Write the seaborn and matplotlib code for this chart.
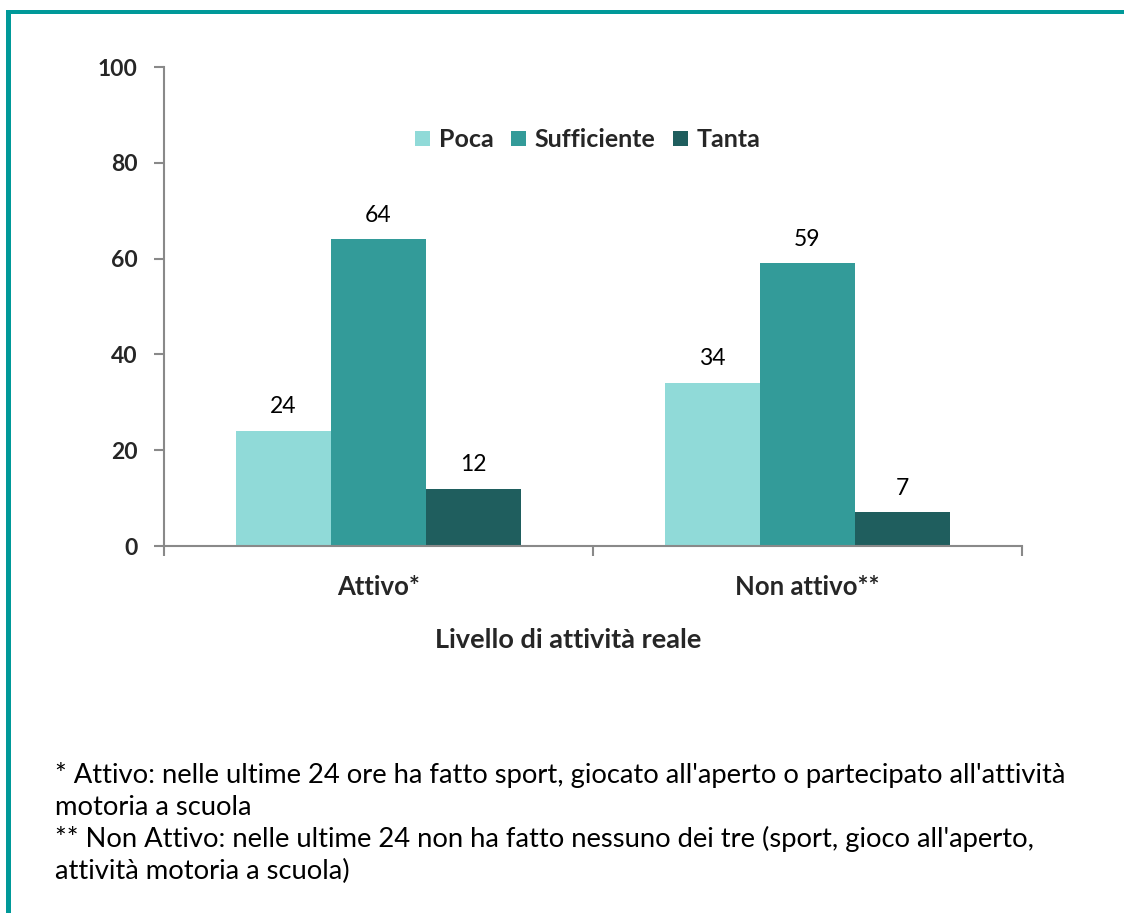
import matplotlib
matplotlib.use("Agg")
import matplotlib.pyplot as plt
import seaborn as sns
import pandas as pd
from matplotlib.patches import Rectangle
from matplotlib.ticker import FixedLocator

categories = ["Attivo*", "Non attivo**"]
series = ["Poca", "Sufficiente", "Tanta"]
poca = [24, 34]
sufficiente = [64, 59]
tanta = [12, 7]
colors = ["#90DAD8", "#339B99", "#1F5E5E"]
y_ticks = [0, 20, 40, 60, 80, 100]
x_title = "Livello di attività reale"
footnotes = [
    "* Attivo: nelle ultime 24 ore ha fatto sport, giocato all'aperto o partecipato all'attività",
    "motoria a scuola",
    "** Non Attivo: nelle ultime 24 non ha fatto nessuno dei tre (sport, gioco all'aperto,",
    "attività motoria a scuola)",
]

rows = []
for name, vals in zip(series, [poca, sufficiente, tanta]):
    for c, v in zip(categories, vals):
        rows.append({"cat": c, "serie": name, "val": v})
df = pd.DataFrame(rows)

sns.set_theme(style="white")
plt.rcParams["font.family"] = ["Lato", "DejaVu Sans"]

fig = plt.figure(figsize=(11.24, 9.13), dpi=100)
ax = fig.add_axes([164 / 1124, 1 - 546 / 913, 858 / 1124, 479 / 913])

sns.barplot(data=df, x="cat", y="val", hue="serie", order=categories,
            hue_order=series, palette=colors, width=0.664, gap=0,
            linewidth=0, saturation=1, ax=ax, legend=True)

for cont in ax.containers:
    ax.bar_label(cont, labels=[f"{v:.0f}" for v in cont.datavalues],
                 padding=10, fontsize=16.5, color="black")

ax.set_xlim(-0.5, 1.5)
ax.set_ylim(0, 100)
ax.set_yticks(y_ticks)
ax.set_yticklabels([str(t) for t in y_ticks], fontsize=16.5, fontweight="bold")
ax.set_xticks([0, 1])
ax.set_xticklabels(categories, fontsize=18.5, fontweight="bold")
ax.xaxis.set_minor_locator(FixedLocator([-0.5, 0.5, 1.5]))
ax.tick_params(axis="x", which="major", length=0, pad=21)
ax.tick_params(axis="x", which="minor", length=7, width=1.5, color="#898989", direction="out", bottom=True)
ax.tick_params(axis="y", length=7, width=1.5, color="#898989", direction="out", left=True, pad=12)
ax.set_xlabel(x_title, fontsize=19.5, fontweight="bold", labelpad=21, x=0.471)
ax.set_ylabel("")
for s in ["top", "right"]:
    ax.spines[s].set_visible(False)
for s in ["left", "bottom"]:
    ax.spines[s].set_color("#898989")
    ax.spines[s].set_linewidth(1.5)

leg = ax.legend(loc="center", bbox_to_anchor=(0.494, 0.848), ncol=3, frameon=False,
                handlelength=0.6, handleheight=0.6, handletextpad=0.35, columnspacing=0.7,
                prop={"size": 18, "weight": "bold"})

for i, line in enumerate(footnotes):
    fig.text(55 / 1124, 1 - (775 + i * 32) / 913, line, fontsize=19.7, ha="left", va="center", color="black")

# frame border
fig.add_artist(Rectangle((6 / 1124, 1 - 14 / 913), 1, 4 / 913, facecolor="#009999",
                         edgecolor="none", transform=fig.transFigure))
fig.add_artist(Rectangle((6 / 1124, 0), 5 / 1124, 1 - 10 / 913, facecolor="#009999",
                         edgecolor="none", transform=fig.transFigure))

fig.savefig("out.png", dpi=100)
